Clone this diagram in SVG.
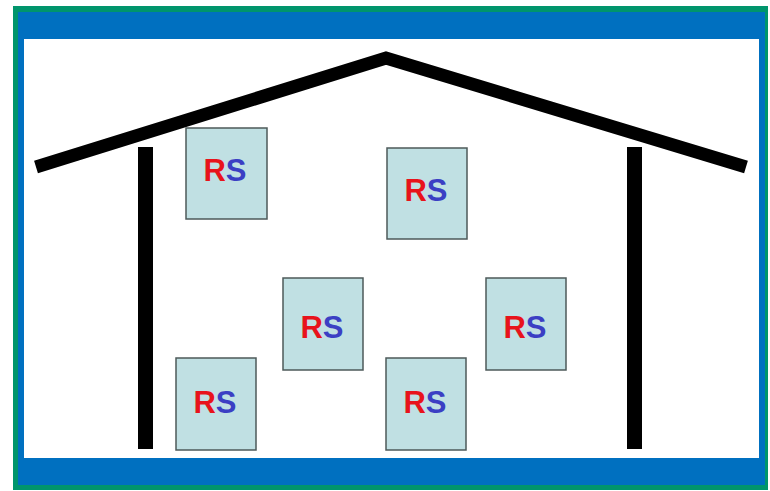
<svg xmlns="http://www.w3.org/2000/svg" width="770" height="491" viewBox="0 0 770 491">
<style>
.box{fill:#c0e0e3;stroke:#4d5a5a;stroke-width:1.5}
.lbl{font-family:"Liberation Sans",Arial,sans-serif;font-weight:bold;font-size:31px;text-anchor:middle}
.r{fill:#e8131b}
.s{fill:#3b3fc4}
.wall{fill:#000}
</style>
<rect x="0" y="0" width="770" height="491" fill="#fff"/>
<rect x="13" y="6" width="755" height="484" fill="#00956c"/>
<rect x="18" y="12" width="747" height="473" fill="#0070c0"/>
<rect x="24" y="39" width="735" height="419" fill="#fff"/>
<g id="house">
<polyline points="36,167 386,58 746,167" fill="none" stroke="#000" stroke-width="13"/>
<rect class="wall" x="138" y="147" width="15" height="302"/>
<rect class="wall" x="627" y="147" width="15" height="302"/>
</g>
<g id="rs1"><rect class="box" x="186" y="128" width="81" height="91"/><text class="lbl" x="225" y="181"><tspan class="r">R</tspan><tspan class="s">S</tspan></text></g>
<g id="rs2"><rect class="box" x="387" y="148" width="80" height="91"/><text class="lbl" x="426" y="201"><tspan class="r">R</tspan><tspan class="s">S</tspan></text></g>
<g id="rs3"><rect class="box" x="283" y="278" width="80" height="92"/><text class="lbl" x="322" y="338"><tspan class="r">R</tspan><tspan class="s">S</tspan></text></g>
<g id="rs4"><rect class="box" x="486" y="278" width="80" height="92"/><text class="lbl" x="525" y="338"><tspan class="r">R</tspan><tspan class="s">S</tspan></text></g>
<g id="rs5"><rect class="box" x="176" y="358" width="80" height="92"/><text class="lbl" x="215" y="413"><tspan class="r">R</tspan><tspan class="s">S</tspan></text></g>
<g id="rs6"><rect class="box" x="386" y="358" width="80" height="92"/><text class="lbl" x="425" y="413"><tspan class="r">R</tspan><tspan class="s">S</tspan></text></g>
<g id="connectors"/>
</svg>
